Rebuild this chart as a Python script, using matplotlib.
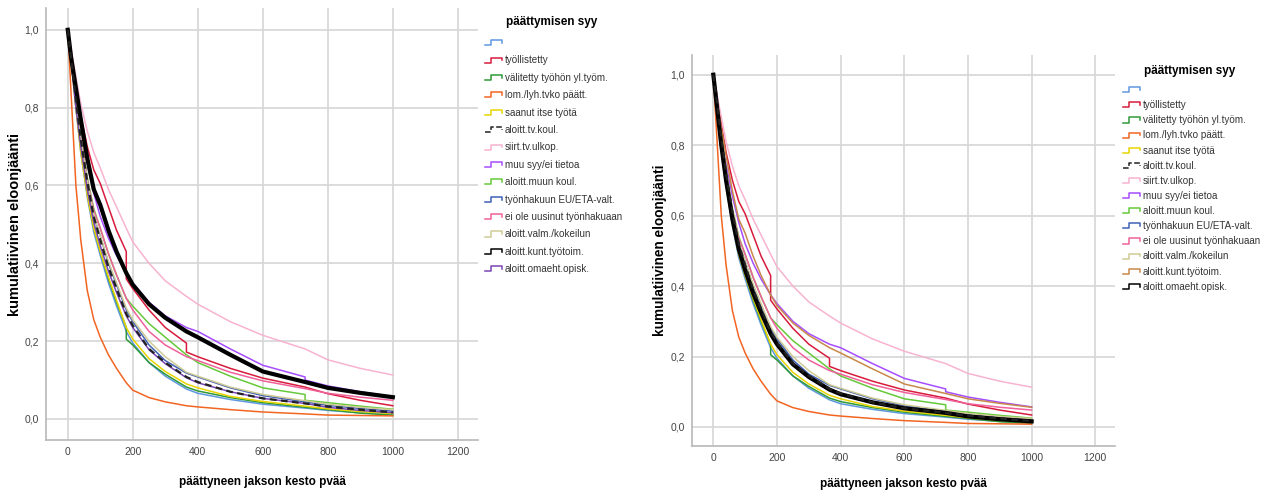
import matplotlib.pyplot as plt
from matplotlib.lines import Line2D
from matplotlib.legend_handler import HandlerBase

# kesto päivinä (toistetut arvot = porrashyppy)
days = [0, 10, 25, 40, 60, 80, 100, 125, 150, 180, 180, 200, 250, 300, 365, 365, 400, 500, 600, 730, 730, 800, 900, 1000]

tyhja = [1.0, .93, .80, .685, .57, .48, .42, .35, .29, .225, .225, .195, .145, .11, .077, .077, .066, .05, .038, .028, .028, .022, .016, .012]
tyollistetty = [1.0, .95, .86, .78, .70, .64, .605, .545, .485, .43, .36, .335, .28, .235, .195, .172, .16, .13, .105, .082, .082, .065, .048, .034]
valitetty = [1.0, .93, .81, .695, .58, .49, .43, .36, .30, .235, .205, .19, .145, .115, .082, .082, .072, .055, .042, .03, .03, .024, .015, .01]
lomautus = [1.0, .84, .60, .46, .33, .255, .21, .165, .13, .093, .093, .074, .055, .044, .034, .034, .031, .024, .018, .013, .013, .01, .009, .008]
saanut = [1.0, .92, .80, .685, .575, .49, .43, .365, .305, .235, .235, .205, .155, .122, .09, .09, .08, .058, .045, .033, .033, .026, .019, .014]
tv_koul = [1.0, .93, .82, .72, .61, .52, .46, .39, .335, .27, .27, .24, .18, .145, .108, .108, .095, .07, .053, .04, .04, .032, .024, .017]
siirt = [1.0, .95, .88, .81, .74, .685, .645, .59, .545, .49, .49, .455, .40, .355, .315, .315, .295, .25, .215, .18, .18, .152, .13, .113]
muu = [1.0, .92, .82, .745, .655, .58, .52, .465, .42, .375, .375, .35, .30, .265, .235, .235, .225, .18, .138, .108, .10, .085, .07, .057]
muun_koul = [1.0, .94, .83, .73, .62, .54, .49, .425, .37, .31, .31, .29, .245, .21, .165, .165, .145, .11, .08, .063, .048, .042, .033, .025]
eu_eta = [1.0, .93, .82, .72, .61, .52, .47, .40, .345, .28, .28, .25, .19, .15, .118, .118, .108, .08, .06, .044, .044, .035, .027, .02]
ei_uusinut = [1.0, .93, .82, .725, .615, .535, .49, .425, .37, .31, .31, .28, .225, .19, .16, .16, .15, .12, .098, .078, .078, .066, .056, .048]
valm = [1.0, .93, .82, .72, .61, .525, .47, .405, .35, .285, .285, .255, .20, .16, .12, .12, .11, .082, .063, .047, .047, .038, .03, .024]
kunt = [1.0, .93, .85, .77, .67, .59, .55, .485, .43, .375, .375, .345, .295, .26, .225, .225, .21, .165, .122, .095, .095, .08, .067, .056]
omaeht = [1.0, .92, .80, .70, .59, .505, .445, .38, .325, .265, .265, .235, .178, .142, .106, .106, .093, .07, .053, .04, .04, .03, .022, .016]

labels = ['', 'työllistetty', 'välitetty työhön yl.työm.', 'lom./lyh.tvko päätt.',
          'saanut itse työtä', 'aloitt.tv.koul.', 'siirt.tv.ulkop.', 'muu syy/ei tietoa',
          'aloitt.muun koul.', 'työnhakuun EU/ETA-valt.', 'ei ole uusinut työnhakuaan',
          'aloitt.valm./kokeilun', 'aloitt.kunt.työtoim.', 'aloitt.omaeht.opisk.']
series = [tyhja, tyollistetty, valitetty, lomautus, saanut, tv_koul, siirt, muu,
          muun_koul, eu_eta, ei_uusinut, valm, kunt, omaeht]

base_colors = ['#5f97e0', '#d81b3c', '#2f9a3a', '#f26522', '#e8d400', '#222222', '#f7b3d0',
               '#a64dff', '#66c93a', '#4060b5', '#f0609a', '#cfcb95']
colors_left = base_colors + ['#000000', '#7a45b5']
colors_right = base_colors + ['#c8884a', '#000000']
thick_left = 12   # kunt. työtoim. paksuna vasemmalla
thick_right = 13  # omaeht. opisk. paksuna oikealla

xticks = [0, 200, 400, 600, 800, 1000, 1200]
yticks = [0.0, 0.2, 0.4, 0.6, 0.8, 1.0]
ytick_labels = ['0,0', '0,2', '0,4', '0,6', '0,8', '1,0']

narrow = ['Liberation Sans Narrow', 'Liberation Sans', 'DejaVu Sans']
bold = ['Liberation Sans', 'DejaVu Sans']


class StepHandler(HandlerBase):
    # SPSS-tyylinen porrasmerkki selitteeseen
    def create_artists(self, legend, orig_handle, xdescent, ydescent, width, height, fontsize, trans):
        x0 = -xdescent
        lo = -ydescent + height * 0.1
        hi = -ydescent + height * 0.85
        xs = [x0, x0 + width * 0.35, x0 + width * 0.35, x0 + width, x0 + width]
        ys = [lo, lo, hi, hi, lo + (hi - lo) * 0.45]
        ln = Line2D(xs, ys, color=orig_handle.get_color(), lw=1.1, linestyle=orig_handle.get_linestyle())
        ln.set_transform(trans)
        return [ln]


def draw_panel(ax, colors, thick, ylab_size):
    order = [i for i in range(len(series)) if i not in (5, thick)] + [thick, 5]
    for i in order:
        if i == 5:
            ax.plot(days, series[i], color=colors[i], lw=1.6, ls=(0, (3, 2)), zorder=5)
        elif i == thick:
            ax.plot(days, series[i], color=colors[i], lw=3.0, zorder=4)
        else:
            ax.plot(days, series[i], color=colors[i], lw=1.1, zorder=3)
    ax.set_xlim(-67, 1262)
    ax.set_ylim(-0.054, 1.056)
    ax.set_xticks(xticks)
    ax.set_xticklabels([str(t) for t in xticks], family=narrow, fontsize=7.5, color='#444444')
    ax.set_yticks(yticks)
    ax.set_yticklabels(ytick_labels, family=narrow, fontsize=7.5, color='#444444')
    ax.tick_params(length=0, pad=5)
    ax.grid(True, color='#d6d6d6', lw=1.2)
    ax.set_axisbelow(True)
    for s in ['top', 'right']:
        ax.spines[s].set_visible(False)
    for s in ['left', 'bottom']:
        ax.spines[s].set_color('#b8b8b8')
        ax.spines[s].set_linewidth(1.2)
    ax.set_xlabel('päättyneen jakson kesto pvää', family=bold, fontweight='bold', fontsize=8.5)
    ax.set_ylabel('kumulatiivinen eloonjäänti', family=bold, fontweight='bold', fontsize=ylab_size)


fig = plt.figure(figsize=(12.65, 4.92), dpi=100)
ax1 = fig.add_axes([0.03636, 0.10569, 0.34150, 0.87805])
ax2 = fig.add_axes([0.54704, 0.09350, 0.33439, 0.79472])

draw_panel(ax1, colors_left, thick_left, 10.5)
draw_panel(ax2, colors_right, thick_right, 9.8)
ax1.yaxis.set_label_coords(-0.055, 0.5)
ax1.xaxis.set_label_coords(0.5, -0.083)
ax2.yaxis.set_label_coords(-0.06, 0.5)
ax2.xaxis.set_label_coords(0.5, -0.082)

# selitteet
for colors, x0, ytop, title_y, spacing in [(colors_left, 485 / 1265, 1 - 38 / 492, 1 - 22 / 492, 0.75),
                                           (colors_right, 1123 / 1265, 1 - 85 / 492, 1 - 71 / 492, 0.52)]:
    handles = [Line2D([], [], color=c, ls=(0, (3, 2)) if i == 5 else '-') for i, c in enumerate(colors)]
    leg = fig.legend(handles, labels, loc='upper left', bbox_to_anchor=(x0, ytop), frameon=False,
                     handler_map={Line2D: StepHandler()}, handlelength=1.7, handletextpad=0.3,
                     labelspacing=spacing, borderpad=0, borderaxespad=0,
                     prop={'family': narrow, 'size': 7.1})
    for t in leg.get_texts():
        t.set_color('#333333')
    fig.text(x0 + 21 / 1265, title_y, 'päättymisen syy', family=bold, fontweight='bold',
             fontsize=8.5, va='center', ha='left')

fig.savefig('out.png', dpi=100)
